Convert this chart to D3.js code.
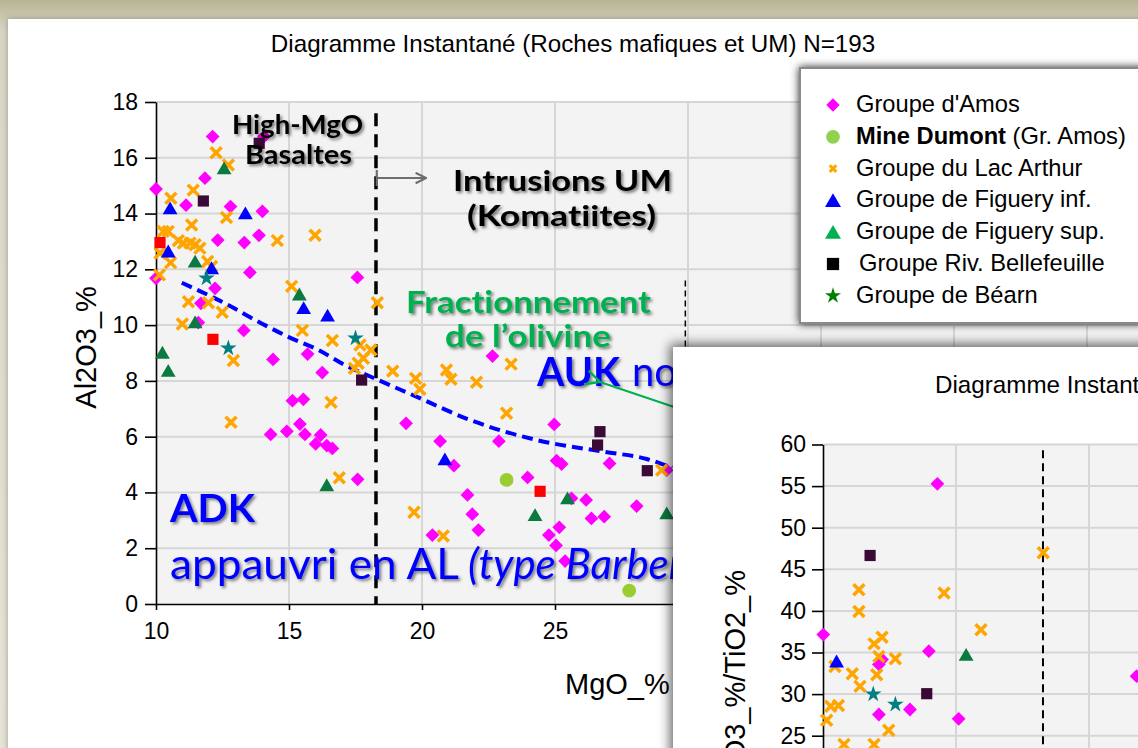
<!DOCTYPE html>
<html>
<head>
<meta charset="utf-8">
<script src="https://cdnjs.cloudflare.com/ajax/libs/d3/7.8.5/d3.min.js"></script>
<style>
  body { margin: 0; background: #fff; }
  svg text { font-family: "Liberation Sans", Arial, sans-serif; font-variant-ligatures: none; }
</style>
</head>
<body>
<div id="chart"></div>
<script>
var width = 1138
var height = 748

/////////////////////////////// DATA (MgO_%, Al2O3_%) ///////////////////////////////
var amos = [[12.13,16.76],[14.06,16.76],[10.0,14.88],[11.84,15.27],[11.13,14.3],[12.8,14.25],[14.0,14.08],
  [12.32,13.05],[13.32,12.96],[13.87,13.22],[10.0,11.68],[13.53,11.89],[17.57,11.71],[12.22,11.32],
  [11.69,10.78],[11.59,10.09],[13.3,9.81],[14.4,8.77],[15.7,8.96],[16.25,8.3],[15.13,7.29],[15.54,7.34],
  [14.31,6.08],[14.92,6.19],[15.41,6.45],[15.6,6.08],[16.19,6.06],[16.0,5.74],[16.42,5.68],[16.63,5.58],
  [17.58,4.47],[22.65,8.89],[19.4,6.48],[20.68,5.84],[22.89,5.84],[24.97,6.44],[21.2,4.96],[25.06,5.14],
  [25.25,5.02],[27.05,5.04],[29.2,4.8],[23.97,4.54],[25.62,3.79],[26.17,3.73],[28.07,3.51],[21.71,3.91],
  [21.89,3.22],[26.37,3.07],[26.85,3.13],[22.12,2.65],[25.16,2.75],[20.39,2.47],[24.77,2.47],[25.04,2.1],
  [25.38,1.54]];
var dumont = [[23.18,4.45],[27.79,0.48]];
var arthur = [[12.26,16.18],[12.72,15.74],[11.4,14.84],[10.56,14.55],[12.65,13.86],[11.34,13.59],[14.56,13.03],
  [15.98,13.22],[10.27,13.36],[10.46,13.36],[10.15,12.58],[10.55,12.24],[10.84,13.03],[11.03,12.94],
  [11.28,12.94],[11.47,12.88],[11.65,12.76],[11.94,12.28],[12.09,12.1],[10.13,11.8],[15.1,11.39],
  [18.32,10.8],[11.22,10.84],[11.97,10.8],[12.49,10.46],[10.99,10.04],[12.91,8.73],[15.5,9.81],
  [16.63,9.45],[17.67,9.29],[17.8,8.81],[18.08,9.11],[17.46,8.45],[17.6,8.63],[16.58,7.23],[12.82,6.52],
  [16.89,4.53],[23.35,8.6],[18.9,8.35],[19.76,8.09],[19.92,7.7],[20.92,8.39],[21.09,8.06],[22.05,7.95],
  [23.18,6.84],[29.01,4.8],[19.7,3.29],[20.8,2.44]];
var figueryInf = [[10.53,14.13],[13.36,13.95],[10.46,12.58],[12.09,11.98],[15.55,10.55],[16.45,10.28],[20.86,5.13]];
var figuerySup = [[12.56,15.56],[11.47,12.22],[15.39,11.04],[11.47,10.04],[10.24,8.95],[10.46,8.3],[16.42,4.2],
  [25.47,3.73],[24.25,3.13],[29.2,3.19]];
var bellefeuille = [[13.88,16.52],[11.78,14.45],[17.73,8.03],[26.69,6.18],[26.6,5.7],[28.47,4.78]];
var bearn = [[11.9,11.68],[12.72,9.17],[17.5,9.53]];
var autres = [[10.15,12.96],[12.14,9.49],[24.44,4.04]];

// blue dashed trend
var trendMgO = [10.97, 12.59, 13.97, 14.97, 16.1, 17.1, 18.36, 19.66, 21.8, 24.31, 26.82, 28.45, 29.4];
var trendAl = [11.52, 10.78, 10.06, 9.58, 9.11, 8.57, 8.03, 7.49, 6.6, 5.88, 5.46, 5.2, 4.88];

var xTicks = [10, 15, 20, 25, 30, 35, 40, 45];
var yTicks = [0, 2, 4, 6, 8, 10, 12, 14, 16, 18];

/////////////////////////////// DATA 2nd chart (MgO_%, Al2O3/TiO2) //////////////////
var amos2 = [[14.3,55.28],[10.01,37.16],[13.98,35.16],[12.22,34.16],[12.1,33.56],[13.27,28.15],[12.1,27.55],
  [15.1,27.03],[21.79,32.15]];
var arthur2 = [[18.28,46.98],[11.35,42.55],[14.55,42.15],[11.35,39.93],[15.94,37.74],[11.92,36.04],[12.22,36.84],
  [12.1,34.52],[12.72,34.24],[10.45,33.32],[11.1,32.44],[12.02,32.32],[11.39,30.93],[10.29,28.55],
  [10.58,28.63],[10.14,26.86],[12.47,25.66],[10.79,23.95],[11.92,23.95]];
var figueryInf2 = [[10.51,33.72]];
var figuerySup2 = [[15.38,34.52]];
var bellefeuille2 = [[11.77,46.66],[13.9,30.05]];
var bearn2 = [[11.89,30.0],[12.72,28.75]];
var y2Ticks = [0, 5, 10, 15, 20, 25, 30, 35, 40, 45, 50, 55, 60];

var legendNames = ["Groupe d'Amos", "Mine Dumont", "Groupe du Lac Arthur", "Groupe de Figuery inf.",
  "Groupe de Figuery sup.", "Groupe Riv. Bellefeuille", "Groupe de Béarn"];

// marker styles per series
var styles = {
  amos:   { shape: d3.symbolSquare, size: 95, rot: 45, fill: '#ff00ff' },
  dumont: { shape: d3.symbolCircle, size: 150, rot: 0, fill: '#9acd32' },
  arthur: { shape: d3.symbolX, size: 80, rot: 0, stroke: '#ffa500', sw: 3.5 },
  figInf: { shape: d3.symbolTriangle, size: 95, rot: 0, fill: '#0000ff' },
  figSup: { shape: d3.symbolTriangle, size: 95, rot: 0, fill: '#0a7a40' },
  bell:   { shape: d3.symbolSquare, size: 125, rot: 0, fill: '#3a0a36' },
  bearn:  { shape: d3.symbolStar, size: 85, rot: 0, fill: '#008080' },
  autres: { shape: d3.symbolSquare, size: 125, rot: 0, fill: '#ff0000' }
};
var legendStyles = [
  { shape: d3.symbolSquare, size: 90, rot: 45, fill: '#ff00ff' },
  { shape: d3.symbolCircle, size: 150, rot: 0, fill: '#92d050' },
  { shape: d3.symbolX, size: 30, rot: 0, stroke: '#ffa500', sw: 3 },
  { shape: d3.symbolTriangle, size: 110, rot: 0, fill: '#0000ff' },
  { shape: d3.symbolTriangle, size: 110, rot: 0, fill: '#00b050' },
  { shape: d3.symbolSquare, size: 150, rot: 0, fill: '#000000' },
  { shape: d3.symbolStar, size: 80, rot: 0, fill: '#008000' }
];

/////////////////////////////// SVG ///////////////////////////////
var svg = d3.select('#chart').append('svg')
            .attr('width', width)
            .attr('height', height);

var defs = svg.append('defs');

var bgGrad = defs.append('linearGradient').attr('id', 'bg').attr('x1', 0).attr('y1', 0).attr('x2', 0).attr('y2', 1);
bgGrad.append('stop').attr('offset', '0%').attr('stop-color', '#b7b493');
bgGrad.append('stop').attr('offset', '4%').attr('stop-color', '#d9d7c4');
bgGrad.append('stop').attr('offset', '100%').attr('stop-color', '#e6e5d8');

var tshadow = defs.append('filter').attr('id', 'tshadow').attr('x', '-10%').attr('y', '-20%').attr('width', '130%').attr('height', '150%');
tshadow.append('feDropShadow').attr('dx', 2).attr('dy', 2).attr('stdDeviation', 1.8)
       .attr('flood-color', '#000').attr('flood-opacity', 0.5);

var cardShadow = defs.append('filter').attr('id', 'cshadow').attr('x', '-10%').attr('y', '-10%').attr('width', '130%').attr('height', '130%');
cardShadow.append('feDropShadow').attr('dx', -3).attr('dy', -3).attr('stdDeviation', 6)
          .attr('flood-color', '#000').attr('flood-opacity', 0.6);

var legShadow = defs.append('filter').attr('id', 'lshadow').attr('x', '-10%').attr('y', '-10%').attr('width', '130%').attr('height', '130%');
legShadow.append('feDropShadow').attr('dx', 0).attr('dy', 0).attr('stdDeviation', 4)
         .attr('flood-color', '#000').attr('flood-opacity', 0.85);

var mainShadow = defs.append('filter').attr('id', 'mshadow').attr('x', '-5%').attr('y', '-5%').attr('width', '110%').attr('height', '110%');
mainShadow.append('feDropShadow').attr('dx', 0).attr('dy', 0).attr('stdDeviation', 3)
          .attr('flood-color', '#555').attr('flood-opacity', 0.5);

defs.append('marker').attr('id', 'grayHead').attr('viewBox', '0 0 10 10').attr('refX', 9).attr('refY', 5)
    .attr('markerWidth', 13).attr('markerHeight', 13).attr('markerUnits', 'userSpaceOnUse').attr('orient', 'auto')
    .append('path').attr('d', 'M1,1 L9,5 L1,9').attr('fill', 'none').attr('stroke', '#6e6e6e').attr('stroke-width', 1.6);
defs.append('marker').attr('id', 'greenHead').attr('viewBox', '0 0 10 10').attr('refX', 1).attr('refY', 5)
    .attr('markerWidth', 18).attr('markerHeight', 18).attr('markerUnits', 'userSpaceOnUse').attr('orient', 'auto')
    .append('path').attr('d', 'M9,1 L1,5 L9,9').attr('fill', 'none').attr('stroke', '#00b050').attr('stroke-width', 1.3);

// backdrop + main card
svg.append('rect').attr('width', width).attr('height', height).attr('fill', 'url(#bg)');
svg.append('rect').attr('x', 8).attr('y', 19).attr('width', width + 20).attr('height', height)
   .attr('fill', '#fff').attr('filter', 'url(#mshadow)');

/////////////////////////////// MAIN CHART ///////////////////////////////
var x = d3.scaleLinear().domain([10, 47]).range([156, 156 + 37 * 26.6]);
var y = d3.scaleLinear().domain([0, 18]).range([604, 102]);

svg.append('text')
   .attr('x', 573).attr('y', 52)
   .attr('text-anchor', 'middle')
   .attr('font-size', 24.2)
   .text('Diagramme Instantané (Roches mafiques et UM) N=193');

var plot = svg.append('g');
plot.append('rect')
    .attr('x', x(10)).attr('y', y(18))
    .attr('width', x(47) - x(10)).attr('height', y(0) - y(18))
    .attr('fill', '#f3f3f3');

plot.selectAll('.vgrid').data(xTicks.slice(1)).enter().append('line')
    .attr('x1', function(d){ return x(d); }).attr('x2', function(d){ return x(d); })
    .attr('y1', y(18)).attr('y2', y(0))
    .attr('stroke', '#d6d6d6').attr('stroke-width', 2);
plot.selectAll('.hgrid').data(yTicks.slice(1)).enter().append('line')
    .attr('x1', x(10)).attr('x2', x(47))
    .attr('y1', function(d){ return y(d); }).attr('y2', function(d){ return y(d); })
    .attr('stroke', '#d6d6d6').attr('stroke-width', 2);

var yAxis = plot.append('g').attr('transform', 'translate(' + x(10) + ',0)')
    .call(d3.axisLeft(y).tickValues(yTicks).tickSize(11).tickSizeOuter(0).tickPadding(7));
var xAxis = plot.append('g').attr('transform', 'translate(0,' + y(0) + ')')
    .call(d3.axisBottom(x).tickValues(xTicks).tickSize(6).tickSizeOuter(0).tickPadding(13));
[yAxis, xAxis].forEach(function(a){
  a.selectAll('path').attr('stroke', '#000').attr('stroke-width', 1.6);
  a.selectAll('line').attr('stroke', '#000').attr('stroke-width', 1.6);
  a.selectAll('text').attr('font-size', 23).attr('fill', '#000')
   .style('font-family', '"Liberation Sans", Arial, sans-serif');
});

svg.append('text')
   .attr('transform', 'translate(96,' + y(9.2) + ') rotate(-90)')
   .attr('text-anchor', 'middle').attr('font-size', 29)
   .text('Al2O3_%');
svg.append('text')
   .attr('x', 565).attr('y', 694).attr('font-size', 29)
   .text('MgO_%');

// vertical separators
plot.append('line')
    .attr('x1', x(18.27)).attr('x2', x(18.27)).attr('y1', y(17.6)).attr('y2', y(0))
    .attr('stroke', '#000').attr('stroke-width', 3.5).attr('stroke-dasharray', '13,8');
plot.append('line')
    .attr('x1', x(29.9)).attr('x2', x(29.9)).attr('y1', y(11.6)).attr('y2', y(0))
    .attr('stroke', '#000').attr('stroke-width', 1.5).attr('stroke-dasharray', '6,4');

// trend line
var trendPts = trendMgO.map(function(d, i){ return [d, trendAl[i]]; });
plot.append('path')
    .datum(trendPts)
    .attr('d', d3.line().x(function(d){ return x(d[0]); }).y(function(d){ return y(d[1]); }).curve(d3.curveMonotoneX))
    .attr('fill', 'none').attr('stroke', '#0000ff').attr('stroke-width', 4).attr('stroke-dasharray', '11,6');

function drawSeries(g, data, st, xs, ys) {
  var sym = d3.symbol().type(st.shape).size(st.size);
  g.append('g').selectAll('path').data(data).enter().append('path')
   .attr('d', sym)
   .attr('transform', function(d){ return 'translate(' + xs(d[0]) + ',' + ys(d[1]) + ') rotate(' + st.rot + ')'; })
   .attr('fill', st.fill || 'none')
   .attr('stroke', st.stroke || 'none')
   .attr('stroke-width', st.sw || 0);
}

drawSeries(plot, amos, styles.amos, x, y);
drawSeries(plot, arthur, styles.arthur, x, y);
drawSeries(plot, figuerySup, styles.figSup, x, y);
drawSeries(plot, figueryInf, styles.figInf, x, y);
drawSeries(plot, bellefeuille, styles.bell, x, y);
drawSeries(plot, bearn, styles.bearn, x, y);
drawSeries(plot, autres, styles.autres, x, y);
drawSeries(plot, dumont, styles.dumont, x, y);

/////////////////////////////// ANNOTATIONS ///////////////////////////////
var notes = svg.append('g');

function note(txt, px, py, size, weight, color, len) {
  var t = notes.append('text')
     .attr('x', px).attr('y', py)
     .attr('font-size', size).attr('font-weight', weight)
     .attr('fill', color).attr('filter', 'url(#tshadow)')
     .style('font-family', 'Lato, "Open Sans", sans-serif')
     .text(txt);
  if (len) t.attr('textLength', len).attr('lengthAdjust', 'spacingAndGlyphs');
  return t;
}

note('High-MgO', 232, 134, 26, 'bold', '#000', 131);
note('Basaltes', 245, 164, 26, 'bold', '#000', 107);
note('Intrusions UM', 453, 191, 29, 'bold', '#000', 219);
note('(Komatiites)', 467, 226, 29, 'bold', '#000', 189);
note('Fractionnement', 406, 313, 30, 'bold', '#00b050', 245);
note('de l\u2019olivine', 445, 347, 30, 'bold', '#00b050', 166);
note('AUK', 537, 386, 41, 'bold', '#0000ff', 83);
note('normal', 632, 386, 40, 'normal', '#0000ff');
note('ADK', 170, 522, 39, 'bold', '#0000ff', 85);
note('appauvri en AL', 170, 579, 42, 'normal', '#0000ff', 289);
note('(type Barberton)', 468, 579, 42, 'normal', '#0000ff').attr('font-style', 'italic');

// gray arrow to the UM field
notes.append('line').attr('x1', x(18.3)).attr('x2', x(18.3)).attr('y1', 170).attr('y2', 186)
     .attr('stroke', '#6e6e6e').attr('stroke-width', 2.2);
notes.append('line').attr('x1', x(18.3)).attr('x2', 426).attr('y1', 178).attr('y2', 178)
     .attr('stroke', '#6e6e6e').attr('stroke-width', 2.2).attr('marker-end', 'url(#grayHead)');
// green arrow to AUK
notes.append('line').attr('x1', 680).attr('y1', 409).attr('x2', 600).attr('y2', 382)
     .attr('stroke', '#00b050').attr('stroke-width', 2).attr('marker-end', 'url(#greenHead)');

/////////////////////////////// LEGEND ///////////////////////////////
var legend = svg.append('g');
legend.append('rect').attr('x', 800).attr('y', 68).attr('width', 360).attr('height', 255)
      .attr('fill', '#fff').attr('stroke', '#8a8a8a').attr('stroke-width', 2).attr('filter', 'url(#lshadow)');

legendNames.forEach(function(name, i){
  var st = legendStyles[i];
  var cy = 105 + i * 31.8;
  var sym = d3.symbol().type(st.shape).size(st.size);
  legend.append('path').attr('d', sym)
        .attr('transform', 'translate(833,' + (i >= 3 && i <= 4 ? cy + 2 : cy) + ') rotate(' + st.rot + ')')
        .attr('fill', st.fill || 'none').attr('stroke', st.stroke || 'none').attr('stroke-width', st.sw || 0);
  var t = legend.append('text').attr('x', i === 5 ? 859 : 856).attr('y', 112 + i * 31.8).attr('font-size', 23.7);
  if (i === 1) {
    t.append('tspan').attr('font-weight', 'bold').text(name);
    t.append('tspan').text(' (Gr. Amos)');
  } else {
    t.text(name);
  }
});

/////////////////////////////// SECOND CHART ///////////////////////////////
var card2 = svg.append('g');
card2.append('rect').attr('x', 673).attr('y', 347).attr('width', 500).attr('height', 420)
     .attr('fill', '#fff').attr('filter', 'url(#cshadow)');

var x2 = d3.scaleLinear().domain([10, 22]).range([823, 823 + 12 * 26.6]);
var y2 = d3.scaleLinear().domain([0, 60]).range([444.5 + 60 * 8.32, 444.5]);

card2.append('text').attr('x', 935).attr('y', 393).attr('font-size', 24.2)
     .text('Diagramme Instantané (Roches mafiques et UM) N=193');

card2.append('rect').attr('x', x2(10)).attr('y', y2(60))
     .attr('width', x2(22) - x2(10)).attr('height', y2(0) - y2(60)).attr('fill', '#f3f3f3');
card2.selectAll('.vg2').data([15, 20]).enter().append('line')
     .attr('x1', function(d){ return x2(d); }).attr('x2', function(d){ return x2(d); })
     .attr('y1', y2(60)).attr('y2', y2(0))
     .attr('stroke', '#d6d6d6').attr('stroke-width', 2);
card2.selectAll('.hg2').data(y2Ticks.slice(1)).enter().append('line')
     .attr('x1', x2(10)).attr('x2', x2(22))
     .attr('y1', function(d){ return y2(d); }).attr('y2', function(d){ return y2(d); })
     .attr('stroke', '#d6d6d6').attr('stroke-width', 2);

var y2Axis = card2.append('g').attr('transform', 'translate(' + x2(10) + ',0)')
     .call(d3.axisLeft(y2).tickValues(y2Ticks).tickSize(11).tickSizeOuter(0).tickPadding(6));
y2Axis.selectAll('path').attr('stroke', '#000').attr('stroke-width', 1.6);
y2Axis.selectAll('line').attr('stroke', '#000').attr('stroke-width', 1.6);
y2Axis.selectAll('text').attr('font-size', 23).attr('fill', '#000')
      .style('font-family', '"Liberation Sans", Arial, sans-serif');

card2.append('text')
     .attr('transform', 'translate(745,570) rotate(-90)')
     .attr('text-anchor', 'end').attr('font-size', 29)
     .text('Al2O3_%/TiO2_%');

card2.append('line')
     .attr('x1', x2(18.27)).attr('x2', x2(18.27)).attr('y1', y2(59.3)).attr('y2', y2(0))
     .attr('stroke', '#000').attr('stroke-width', 2).attr('stroke-dasharray', '8,5');

drawSeries(card2, amos2, styles.amos, x2, y2);
drawSeries(card2, arthur2, styles.arthur, x2, y2);
drawSeries(card2, figuerySup2, styles.figSup, x2, y2);
drawSeries(card2, figueryInf2, styles.figInf, x2, y2);
drawSeries(card2, bellefeuille2, styles.bell, x2, y2);
drawSeries(card2, bearn2, styles.bearn, x2, y2);
</script>
</body>
</html>
